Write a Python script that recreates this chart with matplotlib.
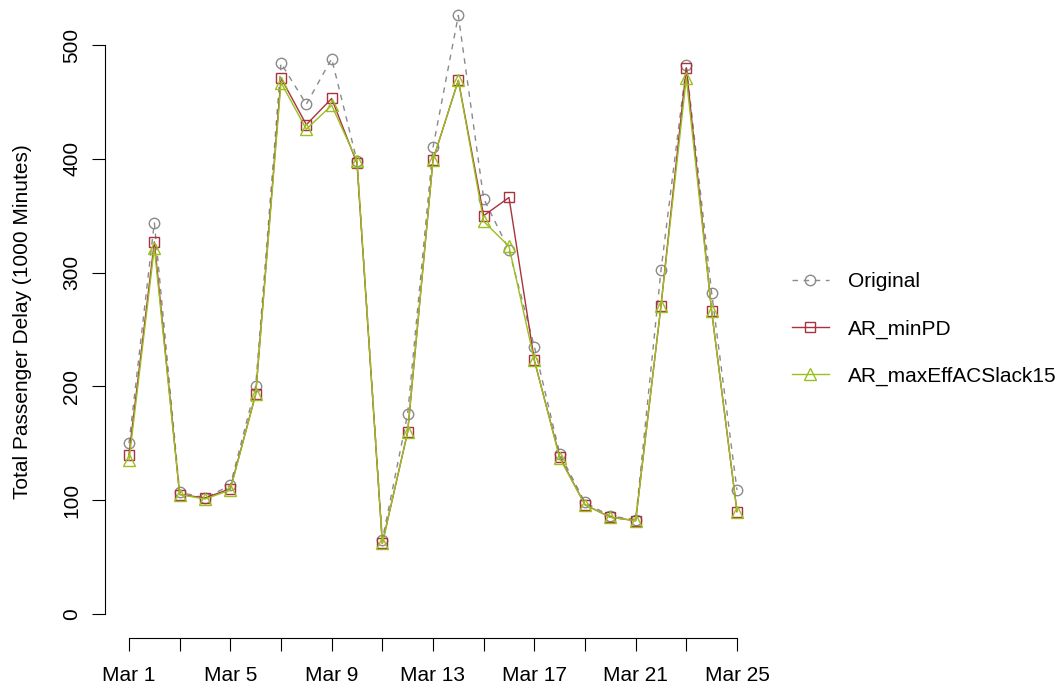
import matplotlib
matplotlib.use("Agg")
import matplotlib.pyplot as plt

plt.rcParams['font.family'] = ['Liberation Sans', 'DejaVu Sans']

days = list(range(1, 26))
tick_days = list(range(1, 26, 2))
tick_labels = ["Mar 1", "", "Mar 5", "", "Mar 9", "", "Mar 13", "", "Mar 17", "", "Mar 21", "", "Mar 25"]
y_ticks = [0, 100, 200, 300, 400, 500]

original = [150, 344, 107, 102, 113, 200, 484, 448, 488, 398, 65, 176, 410,
            526, 365, 320, 235, 141, 98, 86, 83, 302, 482, 282, 109]
ar_minpd = [140, 327, 105, 102, 110, 193, 471, 430, 453, 396, 62, 160, 399,
            469, 350, 366, 223, 138, 96, 85, 82, 271, 480, 266, 90]
ar_maxeff = [135, 322, 105, 101, 109, 193, 467, 426, 447, 398, 62, 160, 399,
             469, 345, 323, 223, 137, 96, 85, 82, 271, 471, 266, 90]

W, H = 1057, 686
fig = plt.figure(figsize=(W / 100, H / 100), dpi=100)

# plot region in pixels (R style, axis lines at region edges)
left_px, right_px, bottom_px, top_px = 105, 770, 638, 5
ax = fig.add_axes([left_px / W, 1 - bottom_px / H,
                   (right_px - left_px) / W, (bottom_px - top_px) / H])

# data -> pixel mapping
px_per_day = (737 - 129) / 24
px_per_unit = (614 - 45) / 500
ax.set_xlim(1 - (129 - left_px) / px_per_day, 1 + (right_px - 129) / px_per_day)
ax.set_ylim((614 - bottom_px) / px_per_unit, (614 - top_px) / px_per_unit)

grey = '#8a8a8a'
red = '#a8323e'
green = '#9abf1e'

ax.plot(days, original, color=grey, lw=1.0, dashes=(4, 4), marker='o', ms=7.5,
        mfc='none', mec=grey, mew=1.0, label='Original')
ax.plot(days, ar_minpd, color=red, lw=1.0, marker='s', ms=7,
        mfc='none', mec=red, mew=1.0, label='AR_minPD')
ax.plot(days, ar_maxeff, color=green, lw=1.0, marker='^', ms=8,
        mfc='none', mec=green, mew=1.0, label='AR_maxEffACSlack15')

for s in ['top', 'right']:
    ax.spines[s].set_visible(False)
ax.spines['left'].set_bounds(0, 500)
ax.spines['bottom'].set_bounds(1, 25)
for s in ['left', 'bottom']:
    ax.spines[s].set_linewidth(0.8)

ax.set_xticks(tick_days)
ax.set_xticklabels(tick_labels, fontsize=15)
ax.set_yticks(y_ticks)
ax.set_yticklabels([str(v) for v in y_ticks], fontsize=15, rotation=90, va='center')
ax.tick_params(axis='both', length=9.2, width=0.8, direction='out')
ax.tick_params(axis='x', pad=11)
ax.tick_params(axis='y', pad=8)

ax.set_ylabel("Total Passenger Delay (1000 Minutes)", fontsize=15, labelpad=22)

fig.legend(loc='center left', bbox_to_anchor=(773 / W, 1 - 329 / H),
           frameon=False, fontsize=15, handlelength=1.78, handletextpad=0.9,
           labelspacing=1.34)

fig.savefig("out.png", dpi=100)
